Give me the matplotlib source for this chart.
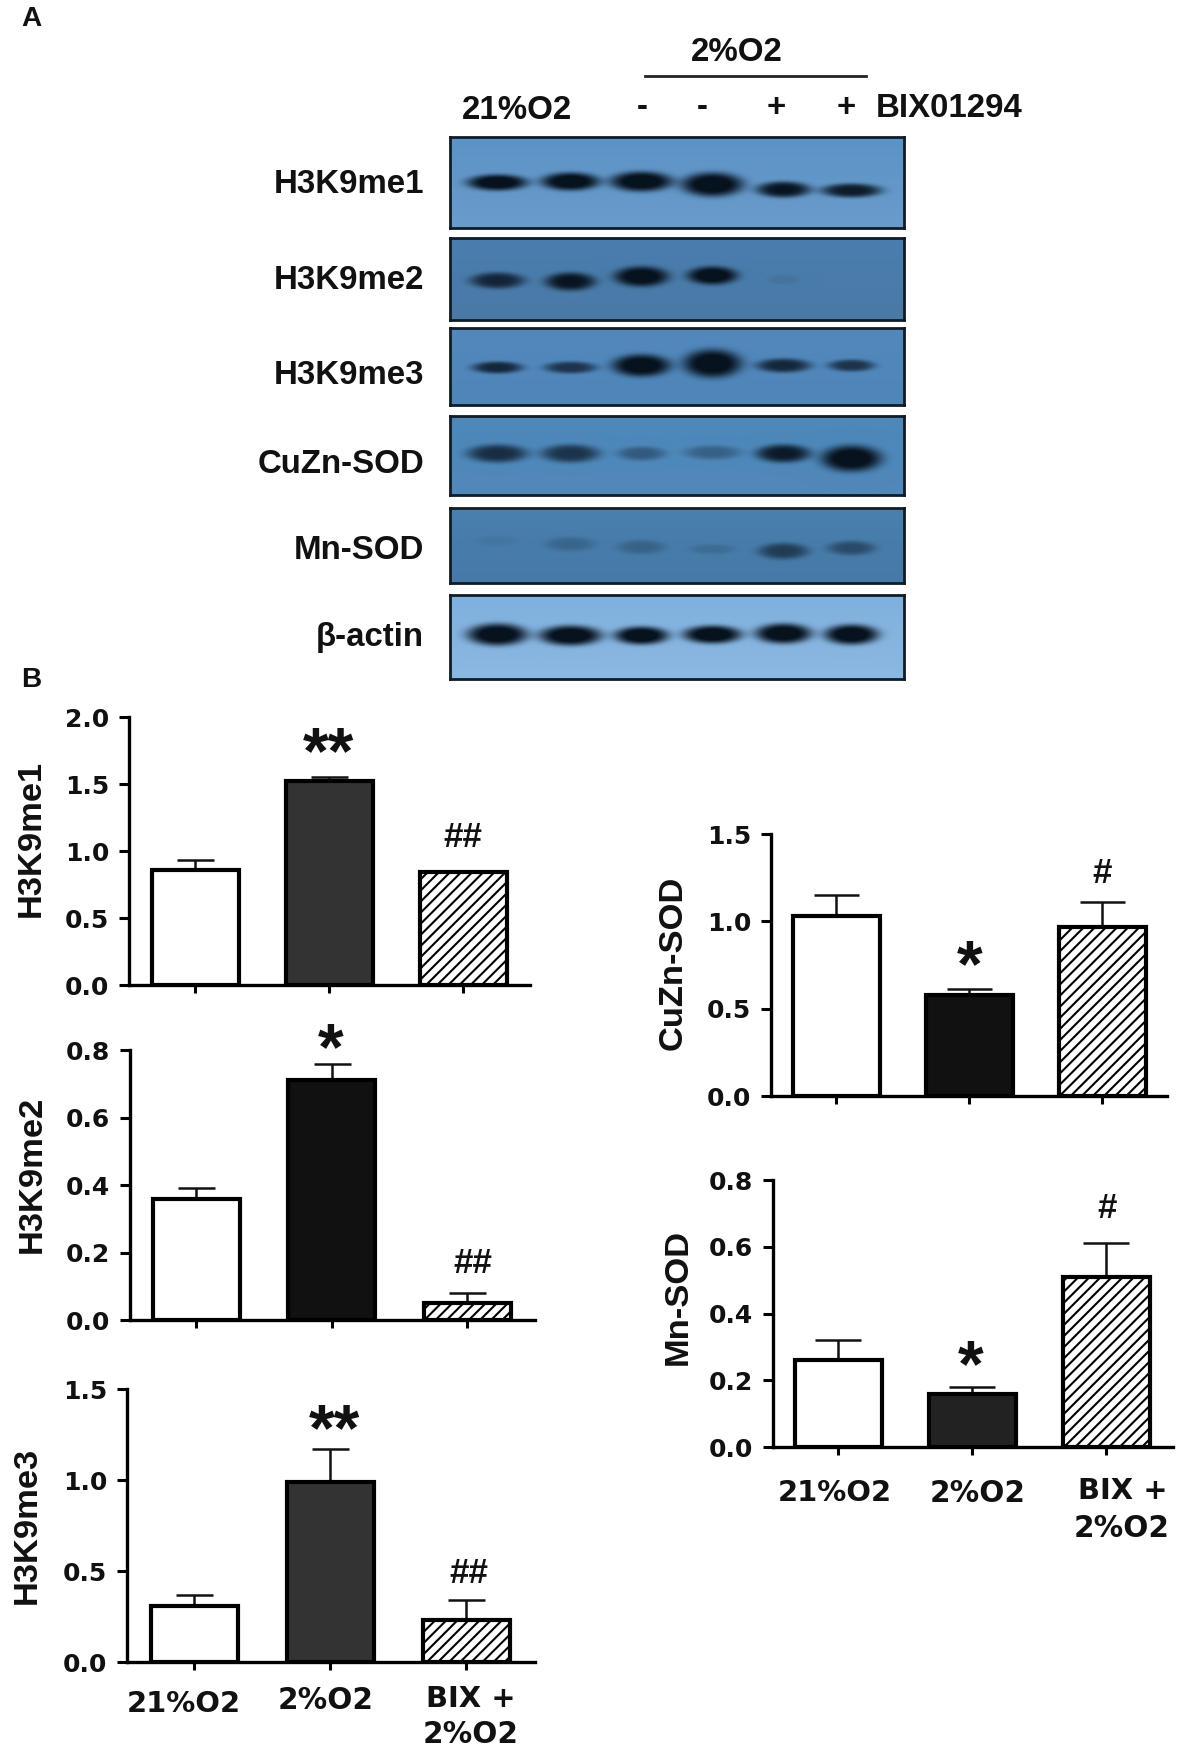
import numpy as np
import matplotlib
matplotlib.use('Agg')
import matplotlib.pyplot as plt

W, H = 1181, 1751
plt.rcParams['font.family'] = ['Liberation Sans', 'DejaVu Sans']
plt.rcParams['hatch.linewidth'] = 1.5

# --- data ---
groups = ['21%O2', '2%O2', 'BIX +\n2%O2']

h3k9me1_vals = [0.86, 1.52, 0.84]
h3k9me1_err = [0.07, 0.03, 0.01]
h3k9me2_vals = [0.36, 0.71, 0.05]
h3k9me2_err = [0.03, 0.05, 0.03]
h3k9me3_vals = [0.31, 0.99, 0.23]
h3k9me3_err = [0.06, 0.18, 0.11]
cuzn_vals = [1.03, 0.58, 0.97]
cuzn_err = [0.12, 0.03, 0.14]
mn_vals = [0.26, 0.16, 0.51]
mn_err = [0.06, 0.02, 0.10]

ticks_20 = [0.0, 0.5, 1.0, 1.5, 2.0]
ticks_15 = [0.0, 0.5, 1.0, 1.5]
ticks_08 = [0.0, 0.2, 0.4, 0.6, 0.8]

blot_names = ['H3K9me1', 'H3K9me2', 'H3K9me3', 'CuZn-SOD', 'Mn-SOD', 'β-actin']
# band darkness per lane, 0 = nothing, 1 = black
blot_strength = [
    [1.0, 1.0, 1.0, 1.0, 0.9, 0.85],
    [0.75, 0.9, 1.0, 1.0, 0.07, 0.0],
    [0.75, 0.65, 1.0, 1.0, 0.75, 0.65],
    [0.7, 0.65, 0.35, 0.3, 0.85, 1.0],
    [0.06, 0.2, 0.22, 0.14, 0.55, 0.42],
    [1.0, 1.0, 1.0, 1.0, 1.0, 1.0],
]

# --- layout in reference pixels ---
lanes = [497, 570, 641, 712, 783, 851]
# top, bottom, background top, background bottom
blot_boxes = [
    (137, 228, '#5b93c6', '#6a9ccb'),
    (238, 320, '#4a7eae', '#4a79a6'),
    (328, 405, '#5288bc', '#4f86b9'),
    (416, 495, '#4d88bb', '#5088b9'),
    (508, 583, '#4980ae', '#4679a6'),
    (595, 679, '#7fb0de', '#8cb8e2'),
]
band_y = [
    [182, 181, 181, 184, 189, 190],
    [280, 281, 276, 275, 279, 279],
    [367, 367, 365, 363, 365, 365],
    [453, 453, 453, 452, 453, 458],
    [541, 544, 547, 549, 551, 548],
    [634, 635, 635, 634, 633, 634],
]
band_w = [
    [30, 29, 31, 31, 27, 30],
    [27, 25, 27, 25, 17, 17],
    [25, 26, 29, 29, 27, 23],
    [30, 29, 24, 28, 27, 30],
    [23, 25, 24, 23, 25, 24],
    [30, 31, 27, 29, 28, 27],
]
band_h = [
    [8, 9, 10, 12, 8, 7],
    [8, 9, 10, 9, 5, 5],
    [6, 6, 11, 14, 7, 6],
    [9, 9, 7, 7, 9, 13],
    [5, 7, 7, 5, 8, 7],
    [11, 10, 9, 9, 10, 10],
]
blot_label_y = [181, 277, 372, 461, 547, 634]

fig = plt.figure(figsize=(W / 100, H / 100), dpi=100, facecolor='white')


def px_axes(left, top, right, bottom):
    return fig.add_axes([left / W, 1 - bottom / H, (right - left) / W, (bottom - top) / H])


def put_text(x, y, s, px, ha='center', rotation=0, family='Liberation Sans', rise=0.36):
    # x, y = centre of the capitals in reference pixels
    size = px * 0.72
    if rotation == 90:
        x = x + rise * px
    else:
        y = y + rise * px
    fig.text(x / W, 1 - y / H, s, fontsize=size, fontweight='bold', family=family, color='#111111',
             ha=ha, va='baseline', rotation=rotation, rotation_mode='anchor')


def hex_rgb(c):
    return np.array(matplotlib.colors.to_rgb(c))


# panel A
put_text(31, 16, 'A', 28)
put_text(737, 49, '2%O2', 33)
fig.add_artist(plt.Line2D([645 / W, 866 / W], [1 - 76 / H, 1 - 76 / H], color='#222222', lw=2))
put_text(517, 107, '21%O2', 33)
put_text(642, 104, '-', 33)
put_text(702, 104, '-', 33)
put_text(776, 105, '+', 33)
put_text(846, 105, '+', 33)
put_text(876, 105, 'BIX01294', 33, ha='left')

for i, name in enumerate(blot_names):
    top, bottom, c_top, c_bottom = blot_boxes[i]
    ax = px_axes(450, top, 904, bottom)
    xx, yy = np.meshgrid(np.arange(450, 904), np.arange(top, bottom))
    frac = ((yy - top) / (bottom - top))[..., None]
    img = hex_rgb(c_top) * (1 - frac) + hex_rgb(c_bottom) * frac
    dark = np.zeros(xx.shape)
    for j, cx in enumerate(lanes):
        s = blot_strength[i][j]
        d = ((xx - cx) / band_w[i][j]) ** 2 + ((yy - band_y[i][j]) / band_h[i][j]) ** 2
        dark += s * np.exp(-d ** 2) * 1.1
    dark = np.clip(dark, 0, 1)[..., None]
    img = img * (1 - dark) + hex_rgb('#07121f') * dark
    ax.imshow(img, aspect='auto', interpolation='bilinear')
    ax.set_xticks([])
    ax.set_yticks([])
    for sp in ax.spines.values():
        sp.set_linewidth(2)
        sp.set_color('#101c28')
    put_text(424, blot_label_y[i], name, 33, ha='right')

# panel B
put_text(31, 677, 'B', 28)

# left, top, right, bottom, first bar centre, last bar centre, cap width, mid bar colour
panels = [
    ('H3K9me1', h3k9me1_vals, h3k9me1_err, ticks_20, (129, 717, 530, 985, 195, 463, 37, '#333333')),
    ('H3K9me2', h3k9me2_vals, h3k9me2_err, ticks_08, (130, 1050, 535, 1320, 196, 467, 37, '#111111')),
    ('H3K9me3', h3k9me3_vals, h3k9me3_err, ticks_15, (127, 1389, 535, 1662, 194, 466, 37, '#333333')),
    ('CuZn-SOD', cuzn_vals, cuzn_err, ticks_15, (771, 834, 1167, 1096, 836, 1102, 45, '#111111')),
    ('Mn-SOD', mn_vals, mn_err, ticks_08, (773, 1180, 1173, 1447, 838, 1106, 46, '#222222')),
]
ylabel_pos = [(27, 838), (28, 1174), (23, 1525), (669, 963), (674, 1297)]

for (name, vals, errs, yticks, box), ypos in zip(panels, ylabel_pos):
    left, top, right, bottom, c0, c2, cap, mid = box
    step = (c2 - c0) / 2
    ax = px_axes(left, top, right, bottom)
    x = np.arange(3)
    ax.patch.set_alpha(0)
    ax.bar(x, vals, width=87 / step, color=['white', mid, 'white'], edgecolor='black', linewidth=3,
           hatch=['', '', '///'], zorder=2)
    ax.errorbar(x, vals, yerr=[[0, 0, 0], errs], fmt='none', ecolor='#111111', elinewidth=1.8,
                capsize=cap * 0.36, capthick=1.8, zorder=1)
    ax.set_xlim(-(c0 - left) / step, 2 + (right - c2) / step)
    ax.set_ylim(0, yticks[-1])
    ax.spines['top'].set_visible(False)
    ax.spines['right'].set_visible(False)
    ax.spines['left'].set_linewidth(2.4)
    ax.spines['bottom'].set_linewidth(2.4)
    ax.set_xticks(x)
    ax.set_xticklabels([])
    ax.set_yticks(yticks)
    ax.set_yticklabels(['%.1f' % t for t in yticks], fontsize=18, fontweight='bold', family='DejaVu Sans',
                       color='#111111')
    ax.tick_params(axis='y', length=7.2, width=2.2, pad=7)
    ax.tick_params(axis='x', length=5.5, width=2.2)
    put_text(ypos[0], ypos[1], name, 34.5, rotation=90)

# significance marks, x/y = centre of the glyph
stars = [('**', 328, 742), ('*', 331, 1038), ('**', 334, 1419), ('*', 970, 955), ('*', 971, 1355)]
hashes = [('##', 463, 834), ('##', 473, 1260), ('##', 469, 1570), ('#', 1102, 870), ('#', 1107, 1205)]
for s, x, y in stars:
    put_text(x, y, s, 66, rise=0.47)
for s, x, y in hashes:
    put_text(x, y, s, 35)

# group names under the bottom charts
put_text(184, 1702, '21%O2', 29, family='DejaVu Sans')
put_text(326, 1698, '2%O2', 29.5, family='DejaVu Sans')
put_text(471, 1697, 'BIX +', 29, family='DejaVu Sans')
put_text(471, 1732, '2%O2', 29.5, family='DejaVu Sans')
put_text(835, 1491, '21%O2', 29, family='DejaVu Sans')
put_text(978, 1491, '2%O2', 29.5, family='DejaVu Sans')
put_text(1123, 1489, 'BIX +', 29, family='DejaVu Sans')
put_text(1122, 1526, '2%O2', 29.5, family='DejaVu Sans')

fig.savefig('out.png', dpi=100)
